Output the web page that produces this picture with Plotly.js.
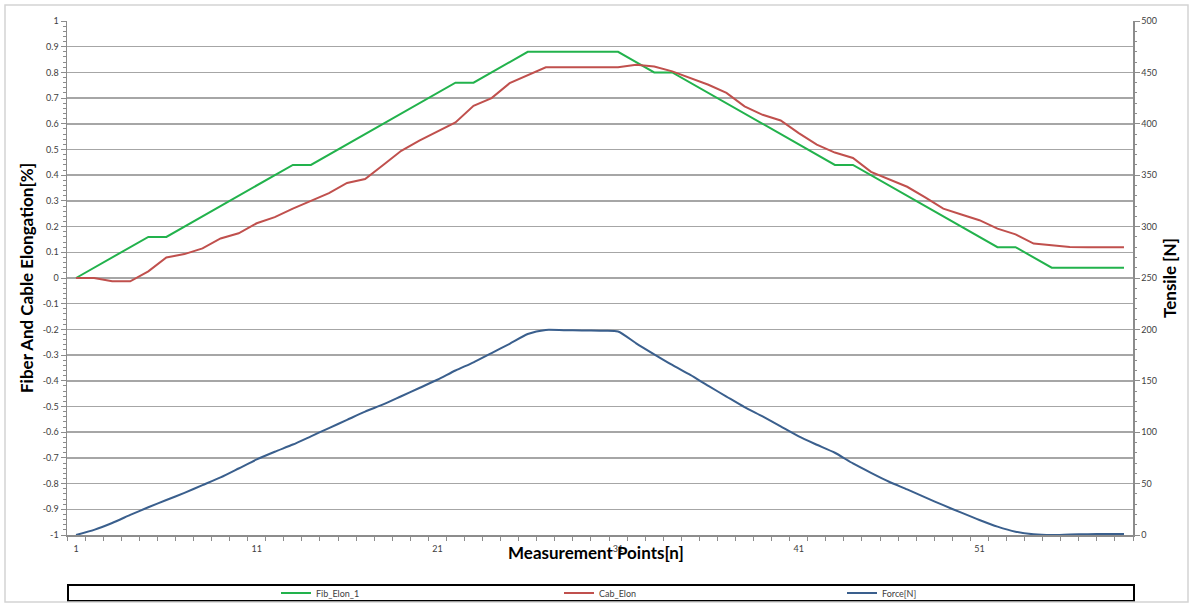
<!DOCTYPE html>
<html>
<head>
<meta charset="utf-8">
<script src="https://cdn.plot.ly/plotly-3.0.1.min.js"></script>
<style>
html,body{margin:0;padding:0;background:#fff;}
#chart{width:1195px;height:603px;}
</style>
</head>
<body>
<div id="chart"></div>
<script>
// Measurement points 1..59
const points = Array.from({length: 59}, (_, i) => i + 1);

const fibElon = [
  0, 0.04, 0.08, 0.12, 0.16, 0.16, 0.20, 0.24, 0.28, 0.32,
  0.36, 0.40, 0.44, 0.44, 0.48, 0.52, 0.56, 0.60, 0.64, 0.68,
  0.72, 0.76, 0.76, 0.80, 0.84, 0.88, 0.88, 0.88, 0.88, 0.88,
  0.88, 0.84, 0.80, 0.80, 0.76, 0.72, 0.68, 0.64, 0.60, 0.56,
  0.52, 0.48, 0.44, 0.44, 0.40, 0.36, 0.32, 0.28, 0.24, 0.20,
  0.16, 0.12, 0.12, 0.08, 0.04, 0.04, 0.04, 0.04, 0.04
];

const cabElon = [
  0, 0, -0.013, -0.013, 0.026, 0.08, 0.093, 0.115, 0.154, 0.174,
  0.213, 0.237, 0.27, 0.30, 0.33, 0.37, 0.385, 0.44, 0.495, 0.535,
  0.57, 0.605, 0.67, 0.70, 0.758, 0.79, 0.82, 0.82, 0.82, 0.82,
  0.82, 0.83, 0.823, 0.804, 0.778, 0.752, 0.72, 0.668, 0.635, 0.613,
  0.564, 0.519, 0.488, 0.467, 0.413, 0.383, 0.355, 0.314, 0.27, 0.247,
  0.225, 0.192, 0.17, 0.134, 0.128, 0.121, 0.12, 0.12, 0.12
];

const force = [
  0, 5, 11.7, 19.5, 27, 34, 41, 48.5, 56, 64.7,
  73.5, 81, 88, 96, 104, 112, 120, 127, 135, 143,
  151, 160, 168, 177, 186, 195.5, 199.5, 199.2, 199, 198.6,
  198, 186.5, 175.8, 165.4, 155.7, 145, 134.7, 124.4, 115.3, 105.6,
  95.9, 87.8, 80, 69.6, 60.5, 51.8, 44.4, 36.6, 29, 21.7,
  14.6, 8.1, 3.2, 0.7, 0, 0.5, 0.8, 1, 1
];

const xTickVals = [1, 11, 21, 31, 41, 51];
const xTickText = ['1', '11', '21', '31', '41', '51'];
const leftTickVals = [-1,-0.9,-0.8,-0.7,-0.6,-0.5,-0.4,-0.3,-0.2,-0.1,0,0.1,0.2,0.3,0.4,0.5,0.6,0.7,0.8,0.9,1];
const leftTickText = ['-1','-0.9','-0.8','-0.7','-0.6','-0.5','-0.4','-0.3','-0.2','-0.1','0','0.1','0.2','0.3','0.4','0.5','0.6','0.7','0.8','0.9','1'];
const rightTickVals = [0,50,100,150,200,250,300,350,400,450,500];

const FONT = 'Lato, "Open Sans", "Liberation Sans", sans-serif';
const boundaries = Array.from({length: 60}, (_, i) => i + 0.5);

const traces = [
  {x: points, y: fibElon, name: 'Fib_Elon_1', type: 'scatter', mode: 'lines',
   line: {color: '#22b24c', width: 2}, yaxis: 'y'},
  {x: points, y: cabElon, name: 'Cab_Elon', type: 'scatter', mode: 'lines',
   line: {color: '#c0504d', width: 2}, yaxis: 'y'},
  {x: points, y: force, name: 'Force[N]', type: 'scatter', mode: 'lines',
   line: {color: '#3a5f8d', width: 2, shape: 'spline', smoothing: 0.6}, yaxis: 'y2'}
];

const W = 1195, H = 603;
const L = 67, R = 1133, T = 21, B = 535;
const px2x = px => (px - L) / (R - L);
const px2y = py => (B - py) / (B - T);

const layout = {
  width: W, height: H,
  margin: {l: L, r: W - R, t: T, b: H - B, pad: 0, autoexpand: false},
  paper_bgcolor: '#ffffff', plot_bgcolor: '#ffffff',
  font: {family: FONT, size: 9, color: '#404040'},
  showlegend: true,
  legend: {
    orientation: 'h', xref: 'container', yref: 'container',
    x: 276 / W, y: (H - 593) / H, xanchor: 'left', yanchor: 'middle',
    entrywidth: 238, entrywidthmode: 'pixels',
    bgcolor: 'rgba(0,0,0,0)', borderwidth: 0,
    font: {family: FONT, size: 9, color: '#404040'},
    tracegroupgap: 0
  },
  xaxis: {
    type: 'linear', range: [0.5, 59.5], fixedrange: true,
    tickmode: 'array', tickvals: xTickVals, ticktext: xTickText,
    ticks: 'outside', ticklen: 5, tickcolor: 'rgba(0,0,0,0)',
    tickfont: {family: FONT, size: 9, color: '#404040'},
    showgrid: false, zeroline: false,
    showline: true, linecolor: '#8c8c8c', linewidth: 1.5,
    minor: {tickmode: 'array', tickvals: boundaries, ticks: 'outside', ticklen: 4,
            tickcolor: '#8c8c8c', tickwidth: 1, showgrid: false}
  },
  yaxis: {
    range: [-1, 1], fixedrange: true,
    tickmode: 'array', tickvals: leftTickVals, ticktext: leftTickText,
    ticks: 'outside', ticklen: 5, tickcolor: '#8c8c8c', tickwidth: 1,
    tickfont: {family: FONT, size: 9, color: '#404040'},
    showgrid: true, gridcolor: '#a6a6a6', gridwidth: 1.5,
    zeroline: false,
    showline: true, linecolor: '#8c8c8c', linewidth: 1.5,
    minor: {dtick: 0.02, ticks: 'outside', ticklen: 2.5, tickcolor: '#8c8c8c', showgrid: false},
    title: {text: 'Fiber And Cable Elongation[%]', standoff: 5,
            font: {family: FONT, size: 17, color: '#000000', weight: 'bold'}}
  },
  yaxis2: {
    range: [0, 500], overlaying: 'y', side: 'right', fixedrange: true,
    tickmode: 'array', tickvals: rightTickVals,
    ticks: 'outside', ticklen: 5, tickcolor: '#8c8c8c', tickwidth: 1,
    tickfont: {family: FONT, size: 9, color: '#404040'},
    showgrid: false, zeroline: false,
    showline: true, linecolor: '#8c8c8c', linewidth: 1.5,
    minor: {dtick: 10, ticks: 'outside', ticklen: 2.5, tickcolor: '#8c8c8c', showgrid: false},
    title: {text: 'Tensile [N]', standoff: 8,
            font: {family: FONT, size: 17, color: '#000000', weight: 'bold'}}
  },
  annotations: [
    {text: 'Measurement Points[n]', xref: 'paper', yref: 'paper',
     x: px2x(596), y: px2y(552), xanchor: 'center', yanchor: 'middle', showarrow: false,
     font: {family: FONT, size: 17, color: '#000000', weight: 'bold'}}
  ],
  shapes: [
    {type: 'rect', xref: 'paper', yref: 'paper',
     x0: px2x(68), x1: px2x(1134), y0: px2y(585), y1: px2y(601),
     line: {color: '#000000', width: 2}, fillcolor: 'rgba(0,0,0,0)', layer: 'below'},
    {type: 'rect', xref: 'paper', yref: 'paper',
     x0: px2x(5), x1: px2x(1188), y0: px2y(5), y1: px2y(602),
     line: {color: '#d4d4d4', width: 1.5}, fillcolor: 'rgba(0,0,0,0)', layer: 'below'}
  ]
};

Plotly.newPlot('chart', traces, layout, {displayModeBar: false, staticPlot: true});
</script>
</body>
</html>
